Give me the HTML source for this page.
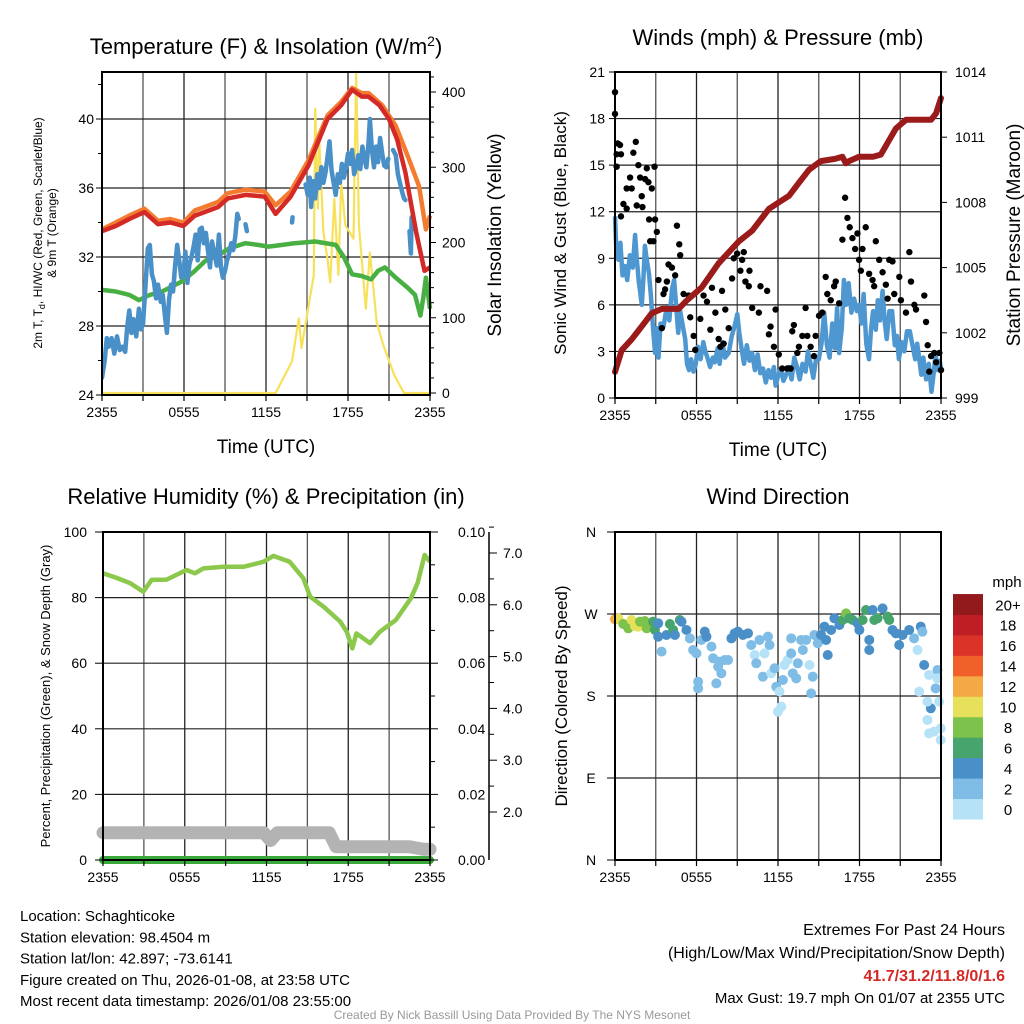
<!DOCTYPE html>
<html><head><meta charset="utf-8">
<style>
html,body{margin:0;padding:0;background:#fff;}
svg{display:block;font-family:"Liberation Sans",sans-serif;}
</style></head>
<body>
<svg id="chart" width="1024" height="1024" viewBox="0 0 1024 1024" xmlns="http://www.w3.org/2000/svg">
<rect x="0" y="0" width="1024" height="1024" fill="#fff"/>
</svg>
<script>
// ---------- Panel 1 data: temperature & insolation ----------
const redT = [0,33.5,1.0,33.8,2.0,34.2,3.1,34.6,4.1,33.9,5.0,34.0,5.95,33.8,6.8,34.4,7.5,34.6,8.5,34.9,9.2,35.4,10.5,35.6,11.9,35.5,12.7,34.5,13.8,35.5,15.1,37.3,16.5,40.0,17.5,40.8,18.3,41.7,19.0,41.3,19.5,41.3,20.3,40.8,21.0,40.0,21.6,38.8,22.2,36.9,23.0,33.4,23.6,31.2,24,31.4];
const orangeT = [0,33.6,1.0,34.0,2.0,34.4,3.1,34.8,4.1,34.1,5.0,34.2,5.95,34.0,6.8,34.7,7.5,34.9,8.5,35.2,9.2,35.7,10.5,35.9,11.9,35.8,12.7,35.0,13.8,35.8,15.1,37.6,16.5,40.2,17.5,41.0,18.3,41.8,19.0,41.5,19.5,41.5,20.5,40.8,21.5,39.6,22.4,37.8,23.2,36.1,23.7,33.6,24,34.4];
const blueT = [0,25.0,0.2,26.0,0.35,27.3,0.5,26.8,0.7,27.3,0.9,26.4,1.1,27.4,1.3,26.6,1.5,26.8,1.7,26.5,1.85,28.0,2.0,28.9,2.15,27.6,2.3,28.4,2.5,27.4,2.7,29.0,2.85,27.8,3.0,28.1,3.2,30.5,3.35,32.5,3.5,32.7,3.65,31.0,3.8,30.6,3.95,29.6,4.1,30.4,4.3,29.4,4.45,29.8,4.6,28.6,4.75,27.6,4.9,29.5,5.05,30.4,5.2,30.0,5.35,31.5,5.5,32.7,5.65,31.8,5.8,30.8,5.95,31.0,6.1,32.3,6.25,30.5,6.4,31.6,6.55,32.0,6.7,32.6,6.85,33.3,7.0,31.8,7.15,33.6,7.3,33.7,7.45,32.8,7.6,33.4,7.75,32.4,7.9,31.4,8.05,32.9,8.2,32.3,8.4,31.5,8.55,33.3,8.7,31.4,8.85,30.8,9.0,31.2,9.15,31.8,9.3,32.2,9.45,32.8,9.6,32.4,9.75,33.2,9.9,34.5,10.0,34.2,null,null,10.5,33.9,10.6,33.5,null,null,13.9,34.0,13.95,34.3,null,null,14.9,36.2,15.05,35.6,15.2,36.6,15.3,34.9,15.45,36.4,15.6,35.4,15.75,36.8,15.9,36.0,16.05,37.2,16.2,36.3,16.35,36.9,16.5,37.8,16.65,38.7,16.8,37.0,16.95,36.3,17.1,35.6,17.25,36.8,17.4,36.3,17.55,37.4,17.7,36.6,17.85,37.2,18.0,38.0,18.15,37.4,18.3,38.2,18.45,36.8,18.6,37.2,18.75,37.9,18.9,37.1,19.05,38.4,19.2,37.7,19.35,37.2,19.5,38.6,19.6,40.0,19.75,38.2,19.9,37.2,20.05,38.4,20.2,37.5,20.35,38.9,20.5,38.0,20.65,37.3,20.8,37.2,20.95,37.7,null,null,21.3,38.2,21.5,37.9,21.65,36.8,21.8,36.3,21.95,35.8,22.1,35.4,22.2,35.3,null,null,22.5,33.5,22.6,32.2,22.65,34.3,22.7,33.9];
const greenT = [0,30.1,1.0,30.0,2.0,29.8,2.7,29.5,3.5,29.8,4.4,30.0,5.9,30.6,6.8,31.2,7.6,31.8,8.5,32.1,9.3,32.5,10.5,32.8,11.4,32.7,12.2,32.6,13.2,32.7,14.1,32.8,15.6,32.9,17.1,32.7,17.7,32.0,18.3,31.0,19.0,30.9,19.7,30.7,20.2,31.2,20.7,31.4,21.5,30.8,22.4,30.2,22.9,29.8,23.3,28.6,23.5,29.6,23.7,30.8,24,29.0];
const solar = [0,0,12.7,0,13.9,42,14.4,99,14.6,60,15.5,157,15.6,378,15.8,245,15.9,334,16.2,214,16.5,178,16.7,147,17.0,258,17.3,157,17.5,280,17.8,223,18.4,205,18.6,427,18.8,223,19.3,112,19.6,187,20.1,94,20.6,63,21.4,23,22.1,0,24,0];
const tempTicks = [24,28,32,36,40];
const solarTicks = [0,100,200,300,400];
const timeLabels = ["2355","0555","1155","1755","2355"];
// ---------- Panel 2 data: winds & pressure ----------
const windSustained = [0,11.7,0.1,9.5,0.25,8.9,0.4,10,0.55,7.9,0.74,8.5,0.9,7.6,1.1,9.2,1.3,8.4,1.48,10.5,1.6,9.0,1.75,7.5,1.97,6.0,2.1,7.8,2.2,9.8,2.34,8.9,2.5,8.0,2.65,6.5,2.8,4.5,2.95,2.9,3.08,4.5,3.2,2.6,3.35,4.8,3.57,4.6,3.8,5.8,4.0,5.0,4.2,7.0,4.35,7.6,4.5,6.0,4.65,4.2,4.8,5.6,5.0,4.6,5.17,3.8,5.3,2.2,5.45,1.8,5.6,2.5,5.78,1.7,5.95,2.2,6.1,3.3,6.3,2.5,6.5,3.6,6.65,3.0,6.8,2.6,7.0,2.0,7.2,2.6,7.35,2.3,7.55,3.2,7.7,2.2,7.9,3.6,8.1,2.6,8.37,2.9,8.6,4.0,8.8,4.6,9.0,5.4,9.15,4.2,9.3,3.3,9.5,2.2,9.7,3.4,9.9,2.4,10.09,2.9,10.3,1.8,10.5,2.8,10.7,1.6,10.9,1.9,11.1,1.0,11.3,1.8,11.5,1.3,11.7,2.0,11.82,0.8,12.0,1.4,12.2,1.9,12.4,1.1,12.55,1.4,12.8,2.0,13.0,1.2,13.2,2.6,13.4,2.0,13.6,1.2,13.8,2.2,14.03,1.7,14.2,3.0,14.4,2.2,14.6,1.3,14.8,2.5,15.0,2.5,15.2,3.5,15.4,5.5,15.6,3.4,15.8,2.6,16.0,4.8,16.2,3.2,16.35,5.8,16.5,2.9,16.7,4.5,16.85,7.6,17.0,6.0,17.2,7.4,17.4,5.5,17.6,6.4,17.8,5.6,17.97,6.0,18.15,4.8,18.3,6.7,18.5,3.5,18.7,2.5,18.85,4.4,19.0,5.6,19.2,4.4,19.35,6.3,19.5,5.0,19.7,6.9,19.85,5.0,20.0,3.8,20.2,5.6,20.4,5.6,20.6,3.4,20.75,4.0,20.9,2.5,21.1,3.6,21.3,3.0,21.5,4.3,21.7,4.3,21.9,3.4,22.1,2.5,22.25,3.5,22.4,2.5,22.55,1.5,22.7,2.6,22.9,1.2,23.1,2.2,23.3,0.4,23.45,1.5,23.6,2.8,23.75,1.8,23.9,2.4,24,1.9];
const gustTimes = [0,0,0.2,0.12,0.44,0.12,0.37,1.11,1.23,0.86,0.62,0.86,0.44,1.35,1.53,1.72,1.85,1.97,2.22,2.34,2.46,2.71,2.91,1.6,2.02,2.51,2.95,3.08,2.59,2.83,3.2,3.57,3.69,3.45,3.82,3.94,4.19,4.43,4.56,4.73,4.8,5.05,5.42,5.54,5.79,5.91,6.28,6.52,6.77,7.02,7.14,7.39,7.63,7.76,8.0,7.88,8.12,8.37,8.62,8.74,8.99,9.23,9.36,9.48,9.6,9.85,9.9,10.1,10.59,10.71,11.2,11.33,11.45,11.7,11.82,12.06,12.31,12.68,12.93,13.05,13.17,13.42,13.54,13.79,14.03,14.16,14.4,14.65,14.77,15.02,15.26,15.51,15.63,15.88,16.13,16.25,16.5,16.74,16.94,17.11,17.28,17.48,17.68,17.85,17.97,18.1,18.22,18.46,18.71,18.96,19.08,19.2,19.45,19.7,19.94,20.07,20.19,20.43,20.56,20.93,21.05,21.42,21.67,21.79,22.04,22.16,22.77,22.9,23.02,23.27,23.51,23.64,23.88,24,23.14];
const gustSpeeds = [19.7,18.3,16.4,15.7,15.7,14.9,16.3,14.2,13.5,13.5,12.5,12.2,11.7,15.8,16.5,15.0,14.2,13.0,14.1,14.8,13.9,13.5,14.9,12.4,12.3,11.5,11.5,10.7,10.1,10.1,7.6,6.7,7.0,4.5,7.5,8.6,8.4,7.9,11.1,9.9,9.2,6.7,6.6,5.2,4.0,3.1,5.1,6.6,6.2,4.4,7.1,5.5,3.8,3.3,3.5,6.9,5.7,4.5,7.7,9.0,9.3,8.2,8.9,9.4,7.5,7.2,8.2,5.8,5.5,7.2,6.9,4.1,4.6,3.3,5.7,2.8,1.9,1.9,1.9,4.3,4.7,2.9,3.3,4.0,5.8,4.0,3.3,2.7,4.0,5.3,5.5,7.8,6.7,6.3,7.2,7.5,6.1,10.2,12.9,11.6,11.0,10.3,9.6,10.6,8.9,8.2,9.6,11.0,8.0,7.6,7.2,10.1,8.9,8.1,7.3,6.4,8.9,8.8,6.7,7.8,6.3,5.5,9.4,7.5,6.0,5.7,6.6,4.9,3.4,2.7,2.9,2.3,2.9,1.8,1.7];
const pressure = [0,1000.2,0.49,1001.2,1.23,1001.7,1.97,1002.3,2.71,1002.9,3.45,1003.1,4.68,1003.1,5.3,1003.5,6.4,1004.1,7.63,1005.2,9.11,1006.2,10.1,1006.7,11.33,1007.7,12.06,1008.0,12.8,1008.3,13.54,1008.9,14.28,1009.5,15.14,1009.9,16.2,1010.0,16.74,1010.1,17.0,1009.8,17.23,1009.9,17.97,1010.1,19.0,1010.1,19.57,1010.2,20.68,1011.4,21.42,1011.8,22.16,1011.8,23.27,1011.8,23.64,1012.1,24,1012.8];
const windTicks = [0,3,6,9,12,15,18,21];
const presTicks = [999,1002,1005,1008,1011,1014];
// ---------- Panel 3 data: RH, precip, snow ----------
const rh = [0,87.4,1.0,86.0,2.0,84.4,2.96,81.8,3.57,85.4,4.67,85.5,6.13,88.4,6.75,87.4,7.36,88.9,8.83,89.4,10.3,89.4,11.77,90.9,12.5,92.7,13.7,90.9,14.7,85.9,15.2,80.3,16.2,77.2,17.4,72.7,17.9,69.5,18.3,64.5,18.6,69.1,19.6,66.1,20.3,69.5,21.5,73.2,22.6,79.8,23.1,84.5,23.6,93.0,24,90.9];
const precip = [0,0,24,0];
const snow = [0,1.6,11.8,1.6,12.3,1.45,12.8,1.6,16.6,1.6,17.1,1.33,22.5,1.33,23.5,1.28,24,1.28];
const rhTicks = [0,20,40,60,80,100];
const precipTicks = ["0.00","0.02","0.04","0.06","0.08","0.10"];
const snowTicks = ["2.0","3.0","4.0","5.0","6.0","7.0"];
// ---------- Panel 4 data: wind direction ----------
const wdTimes = [0,0.24,0.61,0.98,1.22,1.47,1.71,1.84,2.2,2.33,2.57,2.81,2.94,3.18,3.18,3.43,3.79,4.04,4.28,4.41,4.77,4.9,5.26,5.51,5.75,6.0,6.12,6.12,6.36,6.61,6.73,7.1,7.22,7.46,7.59,7.71,7.83,8.08,8.32,8.57,8.81,9.05,9.42,9.79,10.03,10.28,10.4,10.64,10.89,11.01,11.26,11.38,11.5,11.75,11.87,12.11,12.24,11.99,12.36,12.48,12.72,12.97,12.97,13.09,13.34,13.46,13.7,13.83,14.07,14.32,14.44,14.56,14.68,14.93,15.17,15.42,15.54,15.66,15.91,16.15,16.52,16.76,17.01,17.25,17.5,17.86,17.99,18.23,18.48,18.72,18.72,18.97,19.09,19.33,19.7,20.07,20.19,20.43,20.68,20.92,21.17,21.66,22.02,22.27,22.51,22.63,22.76,23.12,23.25,23.0,23.0,23.12,23.49,23.61,23.74,23.86,23.98,23.98,22.39,23.74];
const wdDirs = [264.2,265.3,259.0,254.3,263.4,256.8,256.1,261.6,262.3,254.3,259.8,261.6,252.5,259.8,245.1,228.7,247.0,259.0,252.5,247.0,263.4,261.6,252.5,243.3,230.5,226.8,195.7,188.4,241.5,250.6,245.1,234.2,221.4,193.9,212.2,217.7,204.9,219.5,219.5,243.3,248.8,250.6,247.0,248.8,236.0,225.0,215.9,241.5,201.2,226.8,245.1,236.0,204.9,210.4,190.2,184.8,168.3,162.8,197.6,214.0,219.5,226.8,243.3,204.9,199.4,215.9,241.5,230.5,241.5,214.0,182.9,201.2,247.0,237.9,247.0,256.1,241.5,225.0,252.5,265.3,257.9,263.4,270.7,265.3,263.4,259.8,252.5,263.4,274.4,241.5,230.5,274.4,263.4,265.3,276.2,267.1,263.4,252.5,248.8,236.0,247.0,252.5,243.3,230.5,256.1,250.6,214.0,203.1,166.5,173.8,153.7,139.0,140.9,188.4,208.5,173.8,144.5,131.7,184.8,199.4];
const wdSpeeds = [12,10,8,8,10,10,10,8,8,8,8,6,6,4,4,2,4,6,6,4,6,4,4,2,2,2,2,2,2,4,4,2,2,2,2,2,2,2,2,4,4,4,4,4,2,0,2,2,2,0,2,2,0,2,2,0,0,0,2,0,0,2,2,2,2,2,2,2,2,0,2,2,2,2,4,4,4,4,4,4,4,6,8,6,6,4,4,6,6,4,4,4,6,6,4,6,6,4,4,4,4,4,2,0,4,2,4,0,4,0,0,0,0,2,2,0,0,0,0,0,2];
const speedBins = ["0","2","4","6","8","10","12","14","16","18","20+"];
const speedColors = ["#b5e2f6","#7fbce6","#4a8fc8","#46a46c","#7cc24b","#e6e05a","#f5a946","#ef6129","#dc3328","#bf1e25","#921a1c"];
const dirLabels = ["N","E","S","W","N"];

const NS="http://www.w3.org/2000/svg";
const svg=document.getElementById('chart');
function mk(tag,attrs,parent){const e=document.createElementNS(NS,tag);for(const k in attrs)e.setAttribute(k,attrs[k]);(parent||svg).appendChild(e);return e;}
function txt(s,x,y,size,anchor,parent,extra){const e=mk('text',Object.assign({x:x,y:y,'font-size':size,'text-anchor':anchor||'middle',fill:'#000'},extra||{}),parent);e.textContent=s;return e;}
function linScale(d0,d1,r0,r1){return v=>r0+(v-d0)/(d1-d0)*(r1-r0);}
function pathFrom(arr,xs,ys){let d='',pen=false;for(let i=0;i<arr.length;i+=2){if(arr[i]===null){pen=false;continue;}d+=(pen?'L':'M')+xs(arr[i]).toFixed(1)+','+ys(arr[i+1]).toFixed(1);pen=true;}return d;}

function frame(g,x0,x1,y0,y1,hLines){
  const gr=mk('g',{},g);
  
  
  for(let k=1;k<8;k++){const x=x0+(x1-x0)*k/8;mk('line',{x1:x,x2:x,y1:y0,y2:y1,stroke:(k%2?'#555':'#222'),'stroke-width':1.3},gr);}
  hLines.forEach(y=>mk('line',{x1:x0,x2:x1,y1:y,y2:y,stroke:'#222','stroke-width':1.2},gr));
}
function border(g,x0,x1,y0,y1){
  const b=mk('rect',{x:x0,y:y0,width:x1-x0,height:y1-y0,fill:'none',stroke:'#000','stroke-width':2},g);
  
  
}
function timeAxis(g,x0,x1,y1,title){
  const xs=linScale(0,24,x0,x1);
  timeLabels.forEach((l,i)=>{const t=txt(l,xs(i*6),y1+22,14,'middle',g);
    
    });
  for(let k=0;k<=8;k++){mk('line',{x1:x0+(x1-x0)*k/8,x2:x0+(x1-x0)*k/8,y1:y1,y2:y1+6,stroke:'#000','stroke-width':1.2},g);}
  if(title){const t=txt('Time (UTC)',(x0+x1)/2,y1+58,19,'middle',g);
    
    }
}

// ===== Panel 1 =====
(function(){
const g=mk('g',{});


const x0=102,x1=430,y0=72,y1=395;
const xs=linScale(0,24,x0,x1), ys=linScale(24,28,395,326), ss=linScale(0,400,393,92);
frame(g,x0,x1,y0,y1,tempTicks.slice(1).map(ys));
const clip=mk('clipPath',{id:'c1'},g);mk('rect',{x:x0,y:y0-14,width:x1-x0+4,height:y1-y0+16},clip);
const pg=mk('g',{'clip-path':'url(#c1)'},g);
const sol=mk('path',{d:pathFrom(solar,xs,ss),fill:'none',stroke:'#f8e15a','stroke-width':2.2,'stroke-linejoin':'round'},pg);


const gl=mk('path',{d:pathFrom(greenT,xs,ys),fill:'none',stroke:'#48b043','stroke-width':4.5,'stroke-linejoin':'round'},pg);


const bl=mk('path',{d:pathFrom(blueT,xs,ys),fill:'none',stroke:'#4a90c8','stroke-width':4.5,'stroke-linejoin':'round','stroke-linecap':'round'},pg);


const ol=mk('path',{d:pathFrom(orangeT,xs,ys),fill:'none',stroke:'#f47c30','stroke-width':4.5,'stroke-linejoin':'round'},pg);


const rl=mk('path',{d:pathFrom(redT,xs,ys),fill:'none',stroke:'#d42a27','stroke-width':4.5,'stroke-linejoin':'round'},pg);


border(g,x0,x1,y0,y1);
tempTicks.forEach(v=>{const t=txt(String(v),x0-8,ys(v)+5,14,'end',g);
  
  
  mk('line',{x1:x0-6,x2:x0,y1:ys(v),y2:ys(v),stroke:'#000'},g);});
for(let v=26;v<43;v+=4)mk('line',{x1:x0-4,x2:x0,y1:ys(v),y2:ys(v),stroke:'#000'},g);
solarTicks.forEach(v=>{const t=txt(String(v),x1+12,ss(v)+5,14,'start',g);
  
  
  mk('line',{x1:x1,x2:x1+6,y1:ss(v),y2:ss(v),stroke:'#000'},g);});
for(let v=20;v<430;v+=20)if(v%100)mk('line',{x1:x1,x2:x1+4,y1:ss(v),y2:ss(v),stroke:'#000'},g);
timeAxis(g,x0,x1,y1,true);
const tt=mk('text',{x:266,y:54,'font-size':22,'text-anchor':'middle'},g);
tt.innerHTML='Temperature (F) &amp; Insolation (W/m<tspan dy="-8" font-size="14">2</tspan><tspan dy="8">)</tspan>';


const yl=mk('text',{transform:'translate(42,233) rotate(-90)','font-size':12,'text-anchor':'middle'},g);
yl.innerHTML='2m T, T<tspan dy="3" font-size="9">d</tspan><tspan dy="-3">, HI/WC (Red, Green, Scarlet/Blue)</tspan>';


const yl2=txt('& 9m T (Orange)',0,0,12,'middle',g,{transform:'translate(56,233) rotate(-90)'});


const yr=txt('Solar Insolation (Yellow)',0,0,19,'middle',g,{transform:'translate(501,235) rotate(-90)'});


})();

// ===== Panel 2 =====
(function(){
const g=mk('g',{});


const x0=615,x1=941,y0=72,y1=398;
const xs=linScale(0,24,x0,x1), ys=linScale(0,21,398,72), ps=linScale(999,1014,398,72);
frame(g,x0,x1,y0,y1,windTicks.slice(1,-1).map(ys));
const clip=mk('clipPath',{id:'c2'},g);mk('rect',{x:x0-4,y:y0-4,width:x1-x0+8,height:y1-y0+6},clip);
const pg=mk('g',{'clip-path':'url(#c2)'},g);
const bl=mk('path',{d:pathFrom(windSustained,xs,ys),fill:'none',stroke:'#4e97d0','stroke-width':4.5,'stroke-linejoin':'round'},pg);


gustTimes.forEach((t,i)=>{const c=mk('circle',{cx:xs(t),cy:ys(gustSpeeds[i]),r:3.2,fill:'#000'},pg);
  
  });
const pl=mk('path',{d:pathFrom(pressure,xs,ps),fill:'none',stroke:'#9b1b1b','stroke-width':6,'stroke-linejoin':'round','stroke-linecap':'round'},pg);


border(g,x0,x1,y0,y1);
windTicks.forEach(v=>{const t=txt(String(v),x0-10,ys(v)+5,14,'end',g);
  
  
  mk('line',{x1:x0-6,x2:x0,y1:ys(v),y2:ys(v),stroke:'#000'},g);});
presTicks.forEach(v=>{const t=txt(String(v),x1+14,ps(v)+5,14,'start',g);
  
  
  mk('line',{x1:x1,x2:x1+6,y1:ps(v),y2:ps(v),stroke:'#000'},g);});
timeAxis(g,x0,x1,y1,true);
const tt=txt('Winds (mph) & Pressure (mb)',778,45,22,'middle',g);


const yl=txt('Sonic Wind & Gust (Blue, Black)',0,0,17,'middle',g,{transform:'translate(566,233) rotate(-90)'});


const yr=txt('Station Pressure (Maroon)',0,0,19,'middle',g,{transform:'translate(1020,235) rotate(-90)'});


})();

// ===== Panel 3 =====
(function(){
const g=mk('g',{});


const x0=103,x1=430,y0=532,y1=860;
const xs=linScale(0,24,x0,x1), ys=linScale(0,100,860,532), ss=linScale(2,7,812,553);
frame(g,x0,x1,y0,y1,rhTicks.slice(1,-1).map(ys));
const sn=mk('path',{d:pathFrom(snow,xs,ss),fill:'none',stroke:'#b3b3b3','stroke-width':13,'stroke-linejoin':'round','stroke-linecap':'round'},g);


const pr=mk('path',{d:pathFrom(precip,xs,v=>860),fill:'none',stroke:'#3aa83a','stroke-width':8,'stroke-linecap':'round'},g);


const rl=mk('path',{d:pathFrom(rh,xs,ys),fill:'none',stroke:'#8cc84b','stroke-width':4.5,'stroke-linejoin':'round'},g);


border(g,x0,x1,y0,y1);
rhTicks.forEach(v=>{const t=txt(String(v),x0-16,ys(v)+5,14,'end',g);
  
  
  mk('line',{x1:x0-8,x2:x0,y1:ys(v),y2:ys(v),stroke:'#000'},g);});
precipTicks.forEach((l,i)=>{const y=860-i*65.6;const t=txt(l,x1+28,y+5,14,'start',g);
  
  
  mk('line',{x1:x1,x2:x1+8,y1:y,y2:y,stroke:'#000'},g);
  if(i<5)mk('line',{x1:x1,x2:x1+5,y1:y-32.8,y2:y-32.8,stroke:'#000'},g);});
mk('line',{x1:489,x2:489,y1:532,y2:860,stroke:'#000','stroke-width':1.5},g);
snowTicks.forEach(l=>{const v=parseFloat(l);const y=ss(v);const t=txt(l,503,y+5,14,'start',g);
  
  
  mk('line',{x1:489,x2:497,y1:y,y2:y,stroke:'#000'},g);
  mk('line',{x1:489,x2:494,y1:ss(v+0.5),y2:ss(v+0.5),stroke:'#000'},g);});
timeAxis(g,x0,x1,y1,false);
const tt=txt('Relative Humidity (%) & Precipitation (in)',266,504,22,'middle',g);


const yl=txt('Percent, Precipitation (Green), & Snow Depth (Gray)',0,0,13,'middle',g,{transform:'translate(50,696) rotate(-90)'});


})();

// ===== Panel 4 =====
(function(){
const g=mk('g',{});


const x0=615,x1=941,y0=532,y1=860;
const xs=linScale(0,24,x0,x1), ys=linScale(0,360,860,532);
frame(g,x0,x1,y0,y1,[90,180,270].map(ys));
function col(s){let i=Math.min(10,Math.max(0,Math.floor(s/2)));return speedColors[i];}
wdTimes.forEach((t,i)=>{const c=mk('circle',{cx:xs(t),cy:ys(wdDirs[i]),r:5,fill:col(wdSpeeds[i])},g);
  
  });
border(g,x0,x1,y0,y1);
dirLabels.forEach((l,i)=>{const y=ys(i*90);const t=txt(l,x0-24,y+5,14,'middle',g);
  
  
  mk('line',{x1:x0-8,x2:x0,y1:y,y2:y,stroke:'#000'},g);});
timeAxis(g,x0,x1,y1,false);
const tt=txt('Wind Direction',778,504,22,'middle',g);


const yl=txt('Direction (Colored By Speed)',0,0,17,'middle',g,{transform:'translate(567,696) rotate(-90)'});


const lg=mk('g',{},g);


const h=20.45;
speedBins.forEach((l,i)=>{const y=819-(i+1)*h;
  const r=mk('rect',{x:953,y:y,width:30,height:h+0.5,fill:speedColors[i]},lg);
  
  
  const t=txt(l,1008,y+h/2+6,15,'middle',lg);
  
  });
const u=txt('mph',1007,587,15,'middle',lg);


})();

// ===== Footer text =====
(function(){
const g=mk('g',{});


["Location: Schaghticoke","Station elevation: 98.4504 m","Station lat/lon: 42.897; -73.6141","Figure created on Thu, 2026-01-08, at 23:58 UTC","Most recent data timestamp: 2026/01/08 23:55:00"].forEach((s,i)=>{
  const t=txt(s,20,921+i*21.3,15,'start',g);
  
  });
const g2=mk('g',{});


const a=txt('Extremes For Past 24 Hours',1005,935,16,'end',g2);


const b=txt('(High/Low/Max Wind/Precipitation/Snow Depth)',1005,958,16,'end',g2);


const c=txt('41.7/31.2/11.8/0/1.6',1005,981,16,'end',g2,{fill:'#d42a27','font-weight':'bold'});


const d=txt('Max Gust: 19.7 mph On 01/07 at 2355 UTC',1005,1003,15,'end',g2);


const f=txt('Created By Nick Bassill Using Data Provided By The NYS Mesonet',512,1019,12,'middle',svg,{fill:'#999'});


})();
</script>
</body></html>
